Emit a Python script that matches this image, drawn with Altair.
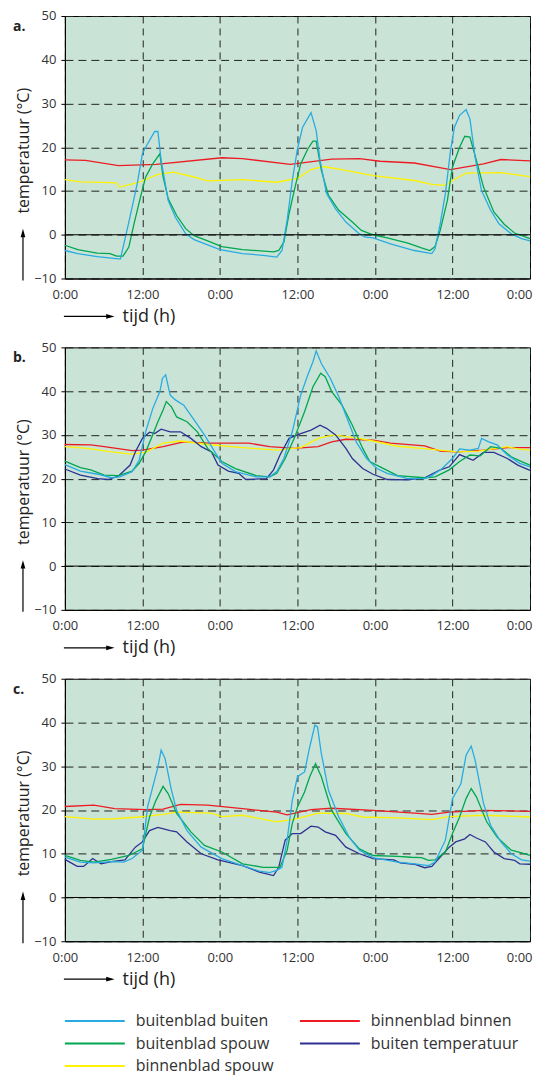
import altair as alt
import pandas as pd

FONT = "Open Sans"
BG = "#c9e4d6"

HOUR_TICKS = [0, 12, 24, 36, 48, 60, 72]
TEMP_TICKS = [-10, 0, 10, 20, 30, 40, 50]

SERIES = ["buitenblad buiten", "binnenblad binnen", "buitenblad spouw",
          "buiten temperatuur", "binnenblad spouw"]
COLORS = ["#29abe2", "#ed1c24", "#00a651", "#2e3192", "#fff200"]
LEG_COL = [0, 1, 0, 1, 0]
LEG_ROW = [0, 0, 1, 1, 2]

# ---------------- panel a ----------------
a_bb_h = [0, 2, 5, 8.3, 8.6, 9.9, 11.2, 12, 12.5, 13.9, 14.4, 14.9, 16, 17.1, 18.7, 20, 24, 27.5, 30.7, 32.8,
          33.6, 34.4, 35.2, 36, 36.8, 38.1, 38.9, 39.5, 40.5, 41.9, 43.5, 45.6, 46.4, 47.7, 50.4, 54.1, 56.8,
          57.3, 58.1, 58.9, 59.7, 60.3, 61.1, 62.1, 62.7, 63.5, 64.5, 65.9, 67.2, 69.1, 70.7, 72]
a_bb_v = [-3.6, -4.3, -5.0, -5.5, -5.5, 2.9, 11.7, 18.5, 20.0, 23.6, 23.6, 17.0, 7.8, 4.0, 0.2, -1.1, -3.4,
          -4.3, -4.7, -5.1, -3.6, 3.3, 12.4, 19.6, 24.6, 27.9, 23.8, 17.0, 9.4, 5.9, 2.9, 0.2, -0.5, -0.7,
          -2.1, -3.6, -4.3, -3.2, 2.5, 9.4, 19.3, 24.6, 27.3, 28.6, 26.5, 17.7, 10.1, 5.6, 2.5, 0.2, -0.9, -1.4]
a_bs_h = [0, 2, 5, 7, 8, 9, 9.9, 10.7, 11.7, 12.5, 13.6, 14.7, 15.2, 16, 17.3, 18.7, 20, 22.1, 24.3, 27.5,
          32.3, 33.1, 33.9, 34.7, 35.5, 36.5, 37.6, 38.4, 38.9, 39.7, 40.8, 42.4, 44.5, 45.9, 47.7, 49.9,
          53.1, 55.2, 56.5, 57.3, 58.1, 59.2, 60, 61.1, 61.9, 62.7, 63.7, 64.8, 66.4, 68, 69.6, 72]
a_bs_v = [-2.4, -3.4, -4.2, -4.3, -4.9, -4.9, -2.8, 2.5, 8.6, 13.2, 16.2, 18.5, 13.2, 8.2, 4.4, 1.4, -0.2,
          -1.4, -2.7, -3.4, -3.9, -3.6, -1.7, 4.8, 10.1, 16.2, 19.6, 21.4, 21.4, 14.7, 9.0, 5.6, 2.9, 1.0,
          0.0, -0.7, -1.9, -3.0, -3.6, -2.7, 1.0, 7.8, 15.5, 20.0, 22.5, 22.3, 17.0, 10.9, 5.2, 2.4, 0.4, -0.9]
a_ns_h = [0, 2.4, 7.2, 8, 8.5, 11.5, 14.4, 16.8, 20, 22.1, 27.5, 32.8, 36, 38.1, 40, 43.5, 47.7, 54.1, 56.8,
          58.9, 60.5, 62.1, 67.5, 72]
a_ns_v = [12.6, 12.1, 11.9, 11.8, 10.9, 12.0, 13.8, 14.3, 13.2, 12.3, 12.6, 12.0, 12.9, 14.9, 15.6, 14.7,
          13.5, 12.4, 11.5, 11.3, 12.8, 14.1, 14.2, 13.3]
a_nn_h = [0, 3.2, 8.3, 14.1, 24.3, 27.5, 34.9, 41.3, 45.6, 48.8, 54.1, 59.7, 64.8, 67.5, 72]
a_nn_v = [17.1, 17.0, 15.8, 16.1, 17.6, 17.4, 16.1, 17.3, 17.4, 16.8, 16.4, 14.9, 16.2, 17.2, 16.9]

# ---------------- panel b ----------------
b_bb_h = [0, 2.4, 5.1, 7.2, 8.5, 10.4, 11.5, 12.5, 13.6, 14.7, 15.1, 15.6, 16.3, 17.1, 18.4, 20, 21.6, 23.2,
          24.3, 26.4, 29.6, 31.7, 32.8, 33.9, 35.2, 36.5, 37.6, 38.4, 38.9, 39.7, 41.1, 42.4, 43.5, 45.1,
          46.7, 48.3, 49.9, 53.1, 55.7, 56.8, 58.4, 60, 61.1, 62.7, 64, 64.5, 65.6, 66.9, 68.5, 70.4, 72]
b_bb_v = [23.2, 21.7, 21.0, 20.2, 20.4, 21.6, 24.2, 30.7, 36.0, 39.9, 42.9, 43.7, 39.1, 38.0, 36.8, 33.4,
          30.0, 26.1, 23.5, 21.6, 20.4, 20.4, 21.6, 24.6, 30.7, 39.1, 43.7, 46.7, 49.2, 46.3, 42.9, 38.7,
          34.5, 28.4, 24.6, 22.3, 21.2, 20.0, 20.0, 20.7, 22.3, 24.6, 26.8, 26.5, 26.9, 29.2, 28.4, 27.7,
          25.4, 23.5, 22.7]
b_bs_h = [0, 2.4, 4, 6.1, 8.3, 10.4, 11.5, 12.5, 13.6, 14.4, 15.2, 15.7, 16.5, 17.3, 18.9, 20.5, 22.1, 24.3,
          26.4, 29.6, 31.7, 32.8, 34.1, 35.5, 37.1, 38.4, 39.6, 40.3, 41.3, 42.9, 44.5, 46.1, 47.2, 48.8,
          51.5, 55.7, 57.3, 59.5, 61.1, 62.7, 64.3, 65.9, 67.5, 69.1, 70.7, 72]
b_bs_v = [24.0, 22.5, 22.0, 20.8, 20.7, 21.7, 23.5, 26.1, 30.0, 33.0, 35.7, 37.6, 36.4, 34.1, 33.0, 30.7,
          26.9, 23.9, 22.3, 20.7, 20.4, 21.2, 24.6, 29.2, 35.3, 41.0, 44.1, 43.3, 39.9, 36.8, 32.2, 26.9,
          23.9, 22.7, 20.7, 20.2, 20.4, 22.0, 23.9, 25.4, 25.2, 27.3, 26.9, 25.0, 23.9, 23.1]
b_bt_h = [0, 2.4, 5.1, 6.7, 8.3, 10.1, 10.9, 12, 13.1, 13.9, 14.9, 16.3, 17.9, 19.5, 21.1, 22.7, 23.7, 25.3,
          26.9, 28, 31.2, 32.3, 33.3, 34.7, 36.5, 38.1, 39.5, 40.5, 41.9, 43.5, 44.5, 46.1, 47.7, 49.9, 53.1,
          55.7, 58.1, 59.5, 61.1, 63.2, 64.8, 66.4, 68.5, 70.1, 72]
b_bt_v = [22.2, 20.8, 20.0, 19.8, 20.6, 23.1, 26.1, 29.2, 30.6, 30.3, 31.3, 30.7, 30.7, 29.2, 27.3, 26.1,
          23.1, 21.7, 21.2, 19.8, 20.0, 22.0, 25.4, 29.2, 30.3, 31.1, 32.2, 31.5, 30.0, 26.9, 24.6, 22.3,
          21.0, 19.8, 19.7, 20.2, 22.0, 22.7, 25.5, 24.2, 26.0, 26.0, 24.6, 23.1, 21.9]
b_ns_h = [0, 3.5, 7.2, 10.4, 12.5, 15.2, 17.9, 22.1, 27.5, 32.8, 36.5, 39.2, 41.6, 45.1, 47.7, 51.5, 56.8,
          60.8, 64, 68.5, 70.1, 72]
b_ns_v = [27.3, 26.9, 26.1, 25.6, 26.0, 28.1, 28.6, 27.8, 27.1, 26.5, 27.1, 29.2, 30.0, 29.3, 28.6, 27.4,
          26.7, 26.1, 26.3, 27.3, 26.8, 26.5]
b_nn_h = [0, 4, 6.1, 10.4, 12, 15.2, 18.4, 22.1, 28.5, 31.7, 35.5, 39.2, 41.3, 43.5, 47.7, 50.4, 55.7, 58.1,
          60.8, 64.8, 68.5, 72]
b_nn_v = [27.8, 27.7, 27.3, 26.4, 26.5, 27.3, 28.4, 28.1, 28.1, 27.3, 26.9, 27.3, 28.4, 29.0, 28.8, 28.1,
          27.5, 26.3, 26.1, 26.5, 27.1, 27.1]

# ---------------- panel c ----------------
c_bb_h = [0, 2.4, 4.5, 7.2, 9.1, 10.4, 12, 12.8, 13.6, 14.4, 14.9, 15.5, 16.5, 17.3, 18.9, 21.1, 24.3, 27.5,
          30.1, 31.7, 32.8, 33.6, 34.4, 35.2, 36, 37.1, 37.9, 38.7, 39.1, 39.7, 40.8, 42.4, 44, 45.6, 47.7,
          51.5, 54.1, 56.3, 57.3, 58.9, 60, 61.3, 62.1, 62.9, 63.5, 64.8, 65.9, 67.5, 69.1, 70.7, 72]
c_bb_v = [9.2, 8.1, 7.9, 8.2, 8.1, 8.9, 10.8, 20.7, 25.3, 29.8, 33.7, 31.8, 24.5, 19.9, 15.3, 11.5, 8.9,
          7.3, 6.0, 5.7, 6.2, 6.9, 13.1, 22.2, 27.6, 28.7, 34.4, 39.4, 39.0, 32.9, 24.5, 18.4, 13.8, 10.8,
          9.1, 8.1, 7.7, 7.3, 8.1, 13.1, 22.6, 26.0, 32.5, 34.6, 31.4, 21.5, 16.5, 12.7, 10.0, 8.6, 8.3]
c_bs_h = [0, 2.4, 4.5, 7.2, 9.9, 12, 13.1, 14.1, 15.2, 16, 17.3, 19.5, 21.6, 24.3, 27.5, 30.7, 33.3, 34.4,
          35.2, 36, 37.1, 37.9, 38.8, 39.7, 41.3, 43.5, 45.6, 47.7, 51.5, 53.6, 55.2, 56.3, 57.3, 58.9, 60,
          61.1, 62.1, 62.9, 63.7, 65.3, 66.9, 69.1, 70.7, 72]
c_bs_v = [9.6, 8.5, 8.1, 8.7, 9.6, 11.1, 18.4, 22.2, 25.4, 23.7, 19.2, 15.0, 11.9, 10.4, 7.7, 6.9, 6.9,
          10.8, 16.9, 20.7, 24.1, 27.6, 30.6, 27.6, 19.9, 14.6, 11.1, 9.6, 9.4, 9.2, 9.1, 8.5, 8.6, 10.4,
          14.6, 18.4, 22.6, 24.9, 23.0, 17.3, 13.8, 10.8, 10.2, 9.6]
c_bt_h = [0, 1.9, 2.9, 4.3, 5.6, 7.2, 9.3, 10.9, 12, 13.1, 14.4, 16.3, 17.3, 18.9, 21.1, 23.7, 27.5, 30.1,
          32.3, 33.1, 34.1, 35.2, 36.5, 38.1, 39.2, 40.3, 41.9, 43.5, 45.6, 47.7, 50.9, 51.9, 54.1, 55.7,
          56.8, 57.9, 59.5, 60.5, 61.9, 62.7, 63.7, 65.1, 66.4, 68, 69.6, 70.4, 72]
c_bt_v = [8.7, 7.1, 7.1, 8.9, 7.7, 8.2, 8.6, 11.5, 12.7, 15.3, 16.0, 15.3, 15.0, 12.7, 10.0, 8.6, 7.3, 5.8,
          5.0, 6.9, 13.1, 14.6, 14.6, 16.3, 16.1, 15.0, 14.2, 11.5, 10.0, 8.9, 8.6, 7.9, 7.6, 6.8, 7.1, 8.9,
          11.5, 12.7, 13.4, 14.4, 13.6, 12.7, 10.4, 8.9, 8.5, 7.7, 7.6]
c_ns_h = [0, 4.5, 7.7, 11.5, 15.2, 17.3, 22.7, 24.3, 27.5, 32.8, 36, 39.2, 43.5, 46.1, 51.5, 56.8, 59.5,
          64.8, 72]
c_ns_v = [18.5, 17.9, 18.0, 18.4, 19.0, 19.5, 19.3, 18.5, 18.8, 17.3, 18.0, 19.3, 19.2, 18.4, 18.2, 17.8,
          18.5, 18.8, 18.4]
c_nn_h = [0, 4.5, 7.7, 12.5, 15.2, 17.9, 22.1, 27.5, 32.8, 34.4, 38.1, 41.3, 47.7, 54.1, 56.8, 59.5, 64.8, 72]
c_nn_v = [20.8, 21.1, 20.3, 20.1, 20.2, 21.3, 21.1, 20.3, 19.5, 18.9, 20.1, 20.4, 19.9, 19.3, 19.0, 19.5,
          19.9, 19.7]

PANELS = [
    ("a.", {"binnenblad binnen": (a_nn_h, a_nn_v), "binnenblad spouw": (a_ns_h, a_ns_v),
            "buitenblad spouw": (a_bs_h, a_bs_v), "buitenblad buiten": (a_bb_h, a_bb_v)}),
    ("b.", {"binnenblad binnen": (b_nn_h, b_nn_v), "binnenblad spouw": (b_ns_h, b_ns_v),
            "buiten temperatuur": (b_bt_h, b_bt_v), "buitenblad spouw": (b_bs_h, b_bs_v),
            "buitenblad buiten": (b_bb_h, b_bb_v)}),
    ("c.", {"binnenblad binnen": (c_nn_h, c_nn_v), "binnenblad spouw": (c_ns_h, c_ns_v),
            "buiten temperatuur": (c_bt_h, c_bt_v), "buitenblad spouw": (c_bs_h, c_bs_v),
            "buitenblad buiten": (c_bb_h, c_bb_v)}),
]

PW, PH = 466, 263
color_scale = alt.Scale(domain=SERIES, range=COLORS)

x_axis = alt.Axis(values=HOUR_TICKS, labelExpr="datum.value % 24 == 0 ? '0:00' : '12:00'",
                  title=None, grid=True, gridDash=[7, 5], gridColor="#222", gridWidth=1,
                  ticks=False, domainColor="black", domainWidth=1, labelFontSize=13, labelPadding=10,
                  labelColor="#333", labelFont=FONT, labelFlush=False, labelOverlap=False,
                  labelAlign=alt.condition("datum.value == 72", alt.value("right"), alt.value("center")),
                  labelOffset=alt.condition("datum.value == 72", alt.value(2), alt.value(0)))
y_axis = alt.Axis(values=TEMP_TICKS, title=None, grid=True, gridDash=[8, 5], gridColor="#222",
                  gridWidth=1, tickSize=4, tickColor="black", domainColor="black", domainWidth=1,
                  labelFontSize=13, labelPadding=5, labelColor="#333", labelFont=FONT)
x_scale = alt.Scale(domain=[0, 72], nice=False, zero=False)
y_scale = alt.Scale(domain=[-10, 50], nice=False, zero=False)


def one(txt=""):
    return pd.DataFrame({"t": [txt]})


def make_panel(letter, series):
    rows = []
    for name, (hs, vs) in series.items():
        for h, v in zip(hs, vs):
            rows.append({"serie": name, "uur": h, "temp": v})
    df = pd.DataFrame(rows)

    lines = alt.Chart(df).mark_line(strokeWidth=1.3).encode(
        x=alt.X("uur:Q", scale=x_scale, axis=x_axis),
        y=alt.Y("temp:Q", scale=y_scale, axis=y_axis),
        color=alt.Color("serie:N", scale=color_scale, legend=None),
        order="uur:Q",
    )
    zero = alt.Chart(pd.DataFrame({"temp": [0]})).mark_rule(color="black", strokeWidth=1).encode(
        y=alt.Y("temp:Q", scale=y_scale))

    letter_m = alt.Chart(one(letter)).mark_text(
        align="left", baseline="middle", fontSize=14, fontWeight="bold", font=FONT, color="#222"
    ).encode(text="t:N", x=alt.value(-52), y=alt.value(11))
    ytitle = alt.Chart(one("temperatuur (°C)")).mark_text(
        angle=270, align="center", baseline="alphabetic", fontSize=16, font=FONT, color="#222"
    ).encode(text="t:N", x=alt.value(-36), y=alt.value(135))
    yline = alt.Chart(one()).mark_rule(color="black", strokeWidth=1.2).encode(
        x=alt.value(-42), y=alt.value(265), y2=alt.value(219))
    yhead = alt.Chart(one()).mark_point(
        shape="M0,-1L0.45,0.6L-0.45,0.6Z", filled=True, color="black", size=110, opacity=1
    ).encode(x=alt.value(-42), y=alt.value(218.5))
    xline = alt.Chart(one()).mark_rule(color="black", strokeWidth=1.2).encode(
        x=alt.value(-1), x2=alt.value(44), y=alt.value(301))
    xhead = alt.Chart(one()).mark_point(
        shape="M1,0L-0.6,0.45L-0.6,-0.45Z", filled=True, color="black", size=110, opacity=1
    ).encode(x=alt.value(44.5), y=alt.value(301))
    xtitle = alt.Chart(one("tijd (h)")).mark_text(
        align="left", baseline="middle", fontSize=18, font=FONT, color="#222"
    ).encode(text="t:N", x=alt.value(57.7), y=alt.value(301.5))
    anchor = alt.Chart(one()).mark_rule(opacity=0).encode(
        x=alt.value(-56), y=alt.value(100), y2=alt.value(101))

    return alt.layer(lines, zero, letter_m, ytitle, yline, yhead, xline, xhead, xtitle, anchor).properties(
        width=PW, height=PH,
        view=alt.ViewBackground(fill=BG, stroke="black", strokeWidth=1),
    )


panels = [make_panel(l, s) for l, s in PANELS]

leg_df = pd.DataFrame({"serie": SERIES, "kol": LEG_COL, "rij": LEG_ROW})
lx = alt.X("kol:Q", scale=alt.Scale(domain=[0, 1], range=[30, 265.5]), axis=None)
ly = alt.Y("rij:Q", scale=alt.Scale(domain=[0, 2], range=[11, 56]), axis=None)
leg_sym = alt.Chart(leg_df).mark_point(shape="M-1,0H1", size=3600, strokeWidth=2, filled=False,
                                       opacity=1).encode(
    x=lx, y=ly, color=alt.Color("serie:N", scale=color_scale, legend=None))
leg_txt = alt.Chart(leg_df).mark_text(align="left", baseline="middle", dx=41, fontSize=16, font=FONT,
                                      color="#333").encode(x=lx, y=ly, text="serie:N")
legend = alt.layer(leg_sym, leg_txt).properties(
    width=PW, height=58, view=alt.ViewBackground(fill=None, stroke=None))

chart = alt.vconcat(*panels, legend, spacing=69, bounds="flush").properties(
    padding={"left": 0, "top": 0, "right": -1, "bottom": 0}
).configure(font=FONT).configure_view(stroke=None)

chart.save("out.html", embed_options={"renderer": "svg", "actions": False})
